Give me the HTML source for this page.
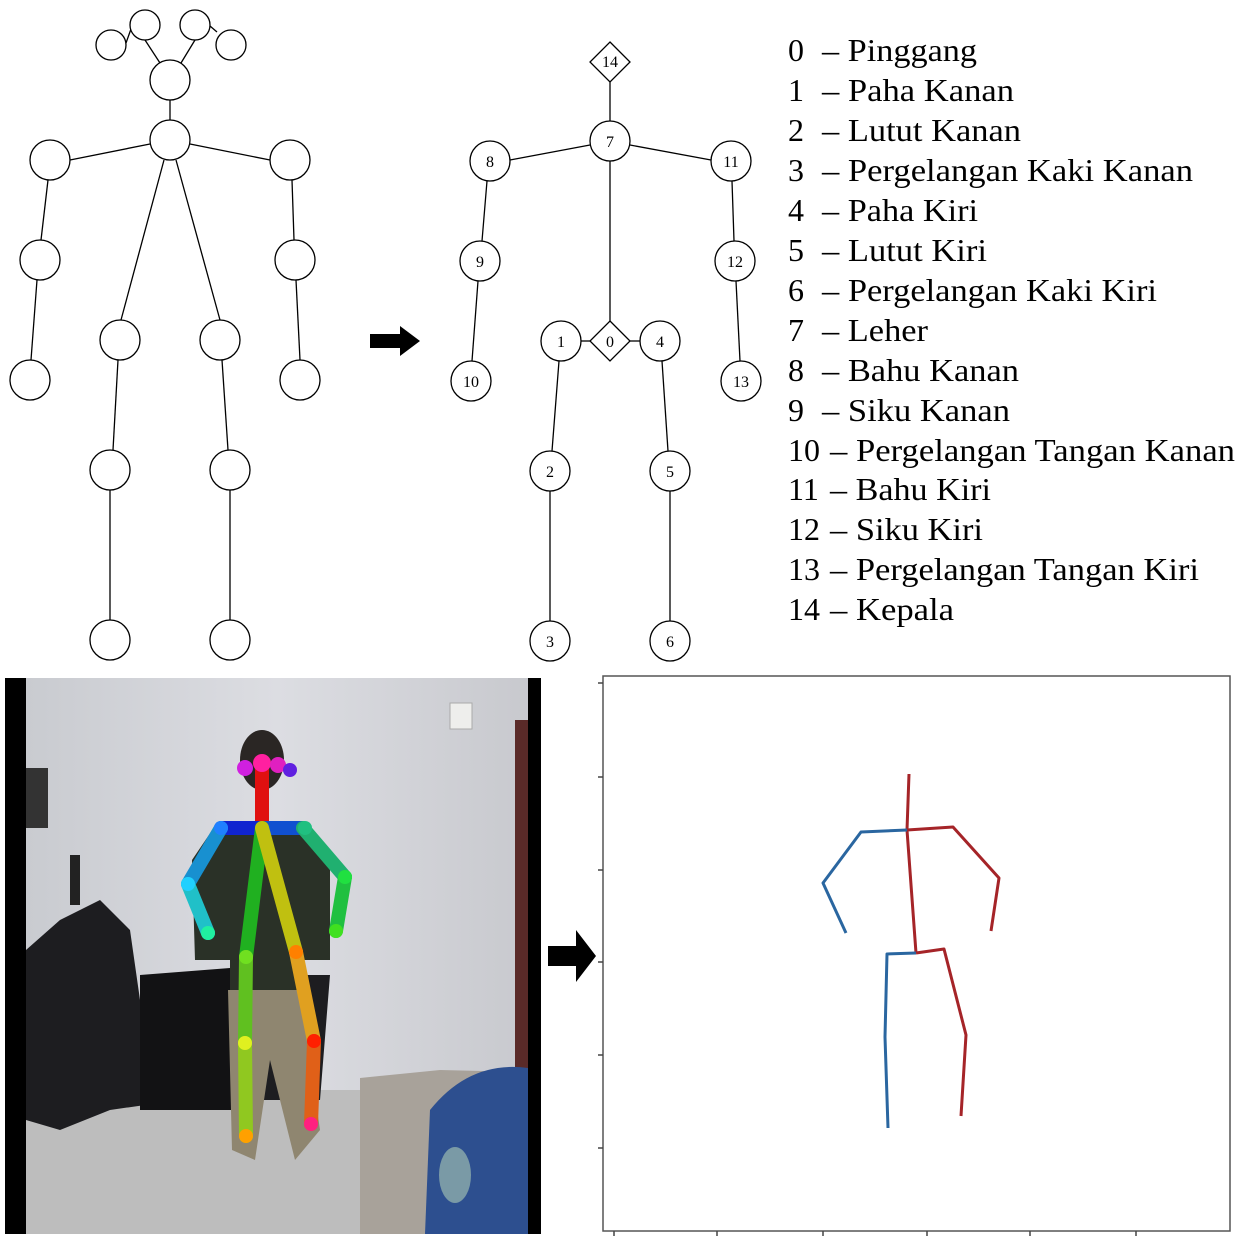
<!DOCTYPE html>
<html><head><meta charset="utf-8"><style>
html,body{margin:0;padding:0;background:#fff}
body{width:1236px;height:1236px;overflow:hidden;position:relative}
</style></head><body>
<svg width="1236" height="1236" viewBox="0 0 1236 1236" xmlns="http://www.w3.org/2000/svg" style="position:absolute;left:0;top:0">
<g stroke="#000" stroke-width="1.3" fill="none">
<line x1="126" y1="43" x2="131" y2="29"/><line x1="210" y1="26" x2="217" y2="32"/>
<line x1="145" y1="40" x2="160" y2="63"/><line x1="195" y1="40" x2="181" y2="63"/>
<line x1="170" y1="100" x2="170" y2="120"/>
<line x1="150" y1="144" x2="70" y2="160"/><line x1="190" y1="144" x2="270" y2="160"/>
<line x1="48" y1="180" x2="41" y2="240"/><line x1="37" y1="280" x2="31" y2="360"/>
<line x1="292" y1="180" x2="294" y2="240"/><line x1="296" y1="280" x2="300" y2="360"/>
<line x1="164" y1="160" x2="121" y2="320"/><line x1="176" y1="160" x2="220" y2="320"/>
<line x1="118" y1="360" x2="113" y2="450"/><line x1="222" y1="360" x2="228" y2="450"/>
<line x1="110" y1="490" x2="110" y2="620"/><line x1="230" y1="490" x2="230" y2="620"/>
</g>
<g stroke="#000" stroke-width="1.3" fill="#fff">
<circle cx="111" cy="45" r="15"/><circle cx="145" cy="25" r="15"/><circle cx="195" cy="25" r="15"/><circle cx="231" cy="45" r="15"/>
<circle cx="170" cy="80" r="20"/><circle cx="170" cy="140" r="20"/>
<circle cx="50" cy="160" r="20"/><circle cx="290" cy="160" r="20"/>
<circle cx="40" cy="260" r="20"/><circle cx="295" cy="260" r="20"/>
<circle cx="30" cy="380" r="20"/><circle cx="300" cy="380" r="20"/>
<circle cx="120" cy="340" r="20"/><circle cx="220" cy="340" r="20"/>
<circle cx="110" cy="470" r="20"/><circle cx="230" cy="470" r="20"/>
<circle cx="110" cy="640" r="20"/><circle cx="230" cy="640" r="20"/>
</g>
<polygon points="370,334 400,334 400,326 420,341 400,356 400,348 370,348" fill="#000"/>
<g stroke="#000" stroke-width="1.3" fill="none">
<line x1="610" y1="82" x2="610" y2="121"/>
<line x1="610" y1="161" x2="610" y2="321"/>
<line x1="590" y1="145" x2="510" y2="160"/><line x1="630" y1="145" x2="711" y2="160"/>
<line x1="487" y1="181" x2="482" y2="241"/><line x1="478" y1="281" x2="472" y2="361"/>
<line x1="732" y1="181" x2="734" y2="241"/><line x1="736" y1="281" x2="740" y2="361"/>
<line x1="581" y1="341" x2="590" y2="341"/><line x1="630" y1="341" x2="640" y2="341"/>
<line x1="559" y1="361" x2="552" y2="451"/><line x1="662" y1="361" x2="668" y2="451"/>
<line x1="550" y1="491" x2="550" y2="621"/><line x1="670" y1="491" x2="670" y2="621"/>
</g>
<g stroke="#000" stroke-width="1.3" fill="#fff">
<polygon points="610,42 630,62 610,82 590,62"/>
<polygon points="610,321 630,341 610,361 590,341"/>
<circle cx="610" cy="141" r="20"/><circle cx="490" cy="161" r="20"/><circle cx="731" cy="161" r="20"/>
<circle cx="480" cy="261" r="20"/><circle cx="735" cy="261" r="20"/>
<circle cx="471" cy="381" r="20"/><circle cx="741" cy="381" r="20"/>
<circle cx="561" cy="341" r="20"/><circle cx="660" cy="341" r="20"/>
<circle cx="550" cy="471" r="20"/><circle cx="670" cy="471" r="20"/>
<circle cx="550" cy="641" r="20"/><circle cx="670" cy="641" r="20"/>
</g>
<g font-family="Liberation Serif, serif" font-size="16" text-anchor="middle" fill="#000">
<text x="610" y="67">14</text><text x="610" y="347">0</text>
<text x="610" y="147">7</text><text x="490" y="167">8</text><text x="731" y="167">11</text>
<text x="480" y="267">9</text><text x="735" y="267">12</text>
<text x="471" y="387">10</text><text x="741" y="387">13</text>
<text x="561" y="347">1</text><text x="660" y="347">4</text>
<text x="550" y="477">2</text><text x="670" y="477">5</text>
<text x="550" y="647">3</text><text x="670" y="647">6</text>
</g>
<g font-family="Liberation Serif, serif" font-size="32" fill="#000">
<text x="788" y="61">0</text><text x="822" y="61" textLength="155" lengthAdjust="spacingAndGlyphs">– Pinggang</text>
<text x="788" y="101">1</text><text x="822" y="101" textLength="192" lengthAdjust="spacingAndGlyphs">– Paha Kanan</text>
<text x="788" y="141">2</text><text x="822" y="141" textLength="199" lengthAdjust="spacingAndGlyphs">– Lutut Kanan</text>
<text x="788" y="181">3</text><text x="822" y="181" textLength="371" lengthAdjust="spacingAndGlyphs">– Pergelangan Kaki Kanan</text>
<text x="788" y="221">4</text><text x="822" y="221" textLength="156" lengthAdjust="spacingAndGlyphs">– Paha Kiri</text>
<text x="788" y="261">5</text><text x="822" y="261" textLength="165" lengthAdjust="spacingAndGlyphs">– Lutut Kiri</text>
<text x="788" y="301">6</text><text x="822" y="301" textLength="335" lengthAdjust="spacingAndGlyphs">– Pergelangan Kaki Kiri</text>
<text x="788" y="341">7</text><text x="822" y="341" textLength="106" lengthAdjust="spacingAndGlyphs">– Leher</text>
<text x="788" y="381">8</text><text x="822" y="381" textLength="197" lengthAdjust="spacingAndGlyphs">– Bahu Kanan</text>
<text x="788" y="421">9</text><text x="822" y="421" textLength="188" lengthAdjust="spacingAndGlyphs">– Siku Kanan</text>
<text x="788" y="461">10</text><text x="830" y="461" textLength="405" lengthAdjust="spacingAndGlyphs">– Pergelangan Tangan Kanan</text>
<text x="788" y="500">11</text><text x="830" y="500" textLength="161" lengthAdjust="spacingAndGlyphs">– Bahu Kiri</text>
<text x="788" y="540">12</text><text x="830" y="540" textLength="153" lengthAdjust="spacingAndGlyphs">– Siku Kiri</text>
<text x="788" y="580">13</text><text x="830" y="580" textLength="369" lengthAdjust="spacingAndGlyphs">– Pergelangan Tangan Kiri</text>
<text x="788" y="620">14</text><text x="830" y="620" textLength="124" lengthAdjust="spacingAndGlyphs">– Kepala</text>
</g>
<defs>
<linearGradient id="wall" x1="0" y1="0" x2="1" y2="0"><stop offset="0" stop-color="#c9cbd0"/><stop offset="0.5" stop-color="#dcdde2"/><stop offset="1" stop-color="#c8c9ce"/></linearGradient>
</defs>
<rect x="5" y="678" width="536" height="556" fill="#000"/>
<rect x="26" y="678" width="502" height="556" fill="url(#wall)"/>
<rect x="26" y="1090" width="502" height="144" fill="#bdbdbd"/>
<rect x="515" y="720" width="13" height="380" fill="#5a2a28"/>
<rect x="450" y="703" width="22" height="26" fill="#eeeeec" stroke="#aaa"/>
<rect x="26" y="768" width="22" height="60" fill="#333"/>
<path d="M26,950 L60,920 L100,900 L130,930 L140,1000 L180,975 L330,975 L320,1100 L180,1100 L110,1110 L60,1130 L26,1120 Z" fill="#1d1d20"/>
<path d="M140,975 L230,968 L245,1110 L140,1110 Z" fill="#121214"/>
<rect x="70" y="855" width="10" height="50" fill="#222"/>
<path d="M360,1078 L440,1070 L528,1072 L528,1234 L360,1234 Z" fill="#a8a29a"/>
<path d="M430,1110 Q470,1060 528,1068 L528,1234 L425,1234 Z" fill="#2d4f8f"/>
<ellipse cx="455" cy="1175" rx="16" ry="28" fill="#7a9aa6"/>
<path d="M215,826 L310,826 L330,860 L330,960 L300,960 L300,990 L230,990 L230,960 L195,960 L192,860 Z" fill="#2a3127"/>
<path d="M228,990 L300,990 L320,1130 L295,1160 L270,1060 L255,1160 L232,1150 Z" fill="#8f8670"/>
<ellipse cx="262" cy="760" rx="22" ry="30" fill="#2a2624"/>
<g stroke-linecap="round" fill="none">
<line x1="262" y1="826" x2="262" y2="770" stroke="#e01010" stroke-width="14"/>
<line x1="262" y1="828" x2="221" y2="828" stroke="#1024d0" stroke-width="14"/>
<line x1="262" y1="828" x2="303" y2="828" stroke="#1050d0" stroke-width="14"/>
<line x1="221" y1="828" x2="188" y2="884" stroke="#1890d0" stroke-width="14"/>
<line x1="188" y1="884" x2="208" y2="933" stroke="#20c0c8" stroke-width="14"/>
<line x1="303" y1="828" x2="345" y2="877" stroke="#20b070" stroke-width="14"/>
<line x1="345" y1="877" x2="336" y2="931" stroke="#20c040" stroke-width="14"/>
<line x1="262" y1="828" x2="246" y2="957" stroke="#20b020" stroke-width="14"/>
<line x1="262" y1="828" x2="296" y2="952" stroke="#c0c010" stroke-width="14"/>
<line x1="246" y1="957" x2="245" y2="1043" stroke="#60c020" stroke-width="14"/>
<line x1="245" y1="1043" x2="246" y2="1136" stroke="#90c820" stroke-width="14"/>
<line x1="296" y1="952" x2="314" y2="1041" stroke="#e0a020" stroke-width="14"/>
<line x1="314" y1="1041" x2="311" y2="1124" stroke="#e06018" stroke-width="14"/>
</g>
<g>
<circle cx="245" cy="768" r="8" fill="#d020e0"/><circle cx="262" cy="763" r="9" fill="#ff20a0"/><circle cx="278" cy="765" r="8" fill="#e020c0"/><circle cx="290" cy="770" r="7" fill="#6020e0"/>
<circle cx="221" cy="828" r="7" fill="#2080ff"/><circle cx="305" cy="828" r="7" fill="#20c080"/>
<circle cx="188" cy="884" r="7" fill="#20d0ff"/><circle cx="345" cy="877" r="7" fill="#20e040"/>
<circle cx="208" cy="933" r="7" fill="#20f0a0"/><circle cx="336" cy="931" r="7" fill="#40e020"/>
<circle cx="246" cy="957" r="7" fill="#70e020"/><circle cx="296" cy="952" r="7" fill="#ff8000"/>
<circle cx="245" cy="1043" r="7" fill="#e0f020"/><circle cx="314" cy="1041" r="7" fill="#ff2000"/>
<circle cx="246" cy="1136" r="7" fill="#ffa000"/><circle cx="311" cy="1124" r="7" fill="#ff2080"/>
</g>
<polygon points="548,946 576,946 576,930 596,956 576,982 576,966 548,966" fill="#000"/>
<rect x="603" y="676" width="627" height="555" fill="#fff" stroke="#555" stroke-width="1.5"/>
<g stroke="#444" stroke-width="1.5">
<line x1="598" y1="683" x2="603" y2="683"/><line x1="598" y1="777" x2="603" y2="777"/><line x1="598" y1="870" x2="603" y2="870"/>
<line x1="598" y1="962" x2="603" y2="962"/><line x1="598" y1="1055" x2="603" y2="1055"/><line x1="598" y1="1148" x2="603" y2="1148"/>
<line x1="614" y1="1231" x2="614" y2="1236"/><line x1="717" y1="1231" x2="717" y2="1236"/><line x1="823" y1="1231" x2="823" y2="1236"/>
<line x1="927" y1="1231" x2="927" y2="1236"/><line x1="1030" y1="1231" x2="1030" y2="1236"/><line x1="1136" y1="1231" x2="1136" y2="1236"/>
</g>
<g fill="none" stroke-width="3" stroke-linejoin="round">
<polyline points="909,774 907,830 916,953" stroke="#a52428"/>
<polyline points="907,830 953,827 999,878 991,931" stroke="#a52428"/>
<polyline points="916,953 944,949 966,1035 961,1116" stroke="#a52428"/>
<polyline points="907,830 861,832 823,883 846,933" stroke="#2a66a0"/>
<polyline points="916,953 887,954 885,1037 888,1128" stroke="#2a66a0"/>
</g>
</svg>
</body></html>
